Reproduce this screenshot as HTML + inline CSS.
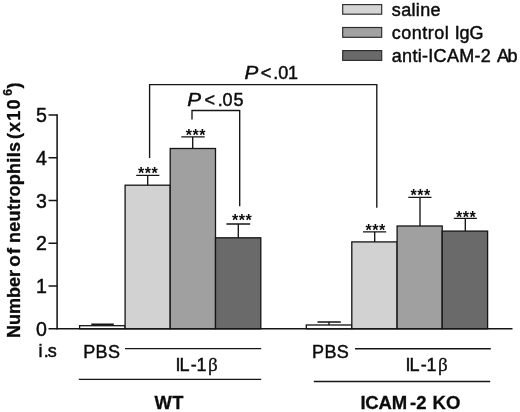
<!DOCTYPE html>
<html>
<head>
<meta charset="utf-8">
<title>Number of neutrophils</title>
<style>
html,body{margin:0;padding:0;background:#fff;}
body{width:520px;height:412px;overflow:hidden;}
svg{display:block;}
text{font-family:"Liberation Sans",Arial,Helvetica,sans-serif;fill:#0c0c0c;stroke:#0c0c0c;stroke-width:0.45px;}
.b{font-weight:bold;stroke-width:0.3px;}
.st{font-weight:bold;stroke:none;font-size:16px;}
.ln{stroke:#151515;stroke-width:1.35;fill:none;}
.bar{stroke:#151515;stroke-width:1.3;}
.sw{stroke:#2a2a2a;stroke-width:1.15;}
.sym{font-family:"Liberation Serif","DejaVu Serif",serif;stroke-width:0.3px;}
</style>
</head>
<body>
<svg width="520" height="412" viewBox="0 0 520 412">
<rect x="0" y="0" width="520" height="412" fill="#ffffff"/>

<!-- legend -->
<rect class="sw" x="342.7" y="4.6" width="39" height="9.6" fill="#d4d4d4"/>
<rect class="sw" x="342.7" y="27.5" width="39" height="9.8" fill="#a2a2a2"/>
<rect class="sw" x="342.7" y="50.6" width="39" height="9.8" fill="#6a6a6a"/>
<text x="391.8" y="15.9" font-size="18" textLength="48.8">saline</text>
<text x="391.8" y="38.6" font-size="18" textLength="57">control</text>
<text x="454.8" y="38.6" font-size="18" textLength="28.6">IgG</text>
<text x="391.8" y="62.3" font-size="18" textLength="99">anti-ICAM-2</text>
<text x="497" y="62.3" font-size="18" textLength="20.6">Ab</text>

<!-- bars WT -->
<rect class="bar" x="79.6" y="325.7" width="45.5" height="3.1" fill="#ffffff"/>
<rect class="bar" x="125.1" y="185.2" width="45.1" height="143.6" fill="#d2d2d2"/>
<rect class="bar" x="170.2" y="148.5" width="45.3" height="180.3" fill="#a0a0a0"/>
<rect class="bar" x="215.5" y="237.8" width="45.3" height="91" fill="#6a6a6a"/>
<!-- bars KO -->
<rect class="bar" x="306.3" y="325" width="45.5" height="3.8" fill="#ffffff"/>
<rect class="bar" x="351.8" y="241.9" width="45.3" height="86.9" fill="#d2d2d2"/>
<rect class="bar" x="397.1" y="226" width="45.1" height="102.8" fill="#a0a0a0"/>
<rect class="bar" x="442.2" y="231.1" width="45.4" height="97.7" fill="#6a6a6a"/>

<!-- error bars -->
<path class="ln" d="M91.3 324.2H113.8 M136.2 175.4H159.4 M147.7 175.4V185.2 M181.3 136.8H204.7 M192.7 136.8V148.5 M226.4 224H250.2 M238.3 224V237.8"/>
<path class="ln" d="M317.5 322H340.8 M329 322V325 M363 231.9H386.2 M374.7 231.9V241.9 M408.3 197.4H431.5 M420 197.4V226 M453.8 218.3H476.9 M465.3 218.3V231.1"/>

<!-- axes -->
<path class="ln" style="stroke-width:1.55" d="M57.1 114.2V329.5"/>
<path class="ln" style="stroke-width:1.45" d="M48.5 114.9H57.1 M48.5 157.8H57.1 M48.5 200.5H57.1 M48.5 243.3H57.1 M48.5 286H57.1 M48.5 328.8H512.5"/>
<g font-size="19.6" text-anchor="end">
<text x="47" y="122">5</text>
<text x="47" y="164.8">4</text>
<text x="47" y="207.5">3</text>
<text x="47" y="250.3">2</text>
<text x="47" y="293">1</text>
<text x="47" y="335.8">0</text>
</g>

<!-- y label -->
<g transform="translate(19.9 336.8) rotate(-90)" class="b" font-size="18">
<text class="b" x="-1.3" y="0">Number</text>
<text class="b" x="70" y="0" font-size="19" textLength="18.9">of</text>
<text class="b" x="93.8" y="0" textLength="101">neutrophils</text>
<text class="b" x="197.7" y="0" textLength="39.7">(x10</text>
<text class="b" x="241" y="-8" font-size="12">6</text>
<text class="b" x="248.3" y="0">)</text>
</g>

<!-- brackets -->
<path class="ln" d="M149.6 158V84.6H376.8V207.8"/>
<path class="ln" d="M192 119.5V110.5H239.7V206.3"/>
<text transform="translate(187.3 105.6) scale(1.15 1)" x="0" y="0" font-size="18" font-style="italic">P</text>
<text x="204.4 217.7 222.5 233.6" y="105.6" font-size="18">&lt;.05</text>
<text transform="translate(244.6 78.6) scale(1.15 1)" x="0" y="0" font-size="18" font-style="italic">P</text>
<text x="260.8 273.2 278.2 288" y="78.6" font-size="18">&lt;.01</text>

<!-- stars -->
<g class="st">
<text class="st" x="138" y="179" textLength="19.8">***</text>
<text class="st" x="185.8" y="141" textLength="19.8">***</text>
<text class="st" x="231.9" y="226" textLength="19.8">***</text>
<text class="st" x="365.5" y="236" textLength="19.8">***</text>
<text class="st" x="410.5" y="201" textLength="19.8">***</text>
<text class="st" x="456" y="223" textLength="19.8">***</text>
</g>

<!-- bottom labels -->
<text x="38.4 43.8 47.8" y="357" font-size="18">i.s</text>
<text x="83.2" y="358.2" font-size="18" textLength="36.8">PBS</text>
<text x="312" y="358.2" font-size="18" textLength="36.8">PBS</text>
<path class="ln" d="M125 348.6H261.2 M78.8 379.3H261.2 M355 348.7H490.8 M313.8 381.5H490.2"/>
<text x="175.6 179.6 190.8 196.4" y="370.8" font-size="18">IL-1</text>
<text class="sym" x="208" y="370.8" font-size="19">β</text>
<text x="405.6 409.6 420.8 426.4" y="370.8" font-size="18">IL-1</text>
<text class="sym" x="438" y="370.8" font-size="19">β</text>
<text class="b" x="154.4" y="408.9" font-size="18.3" textLength="29">WT</text>
<text class="b" x="360.6 365.2 378.4 391.7 409.9 416.2 426 432.6 446.1" y="408.9" font-size="18.5">ICAM-2 KO</text>
</svg>
</body>
</html>
